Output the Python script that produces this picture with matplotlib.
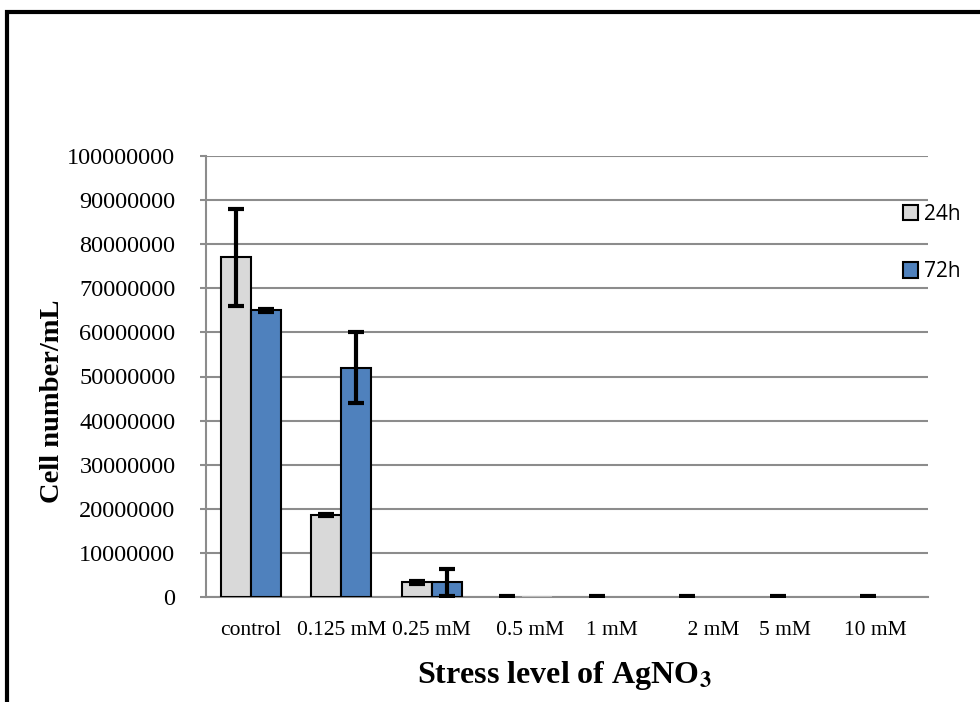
import matplotlib
matplotlib.use("Agg")
import matplotlib.pyplot as plt
import numpy as np
from matplotlib.patches import Rectangle
from matplotlib.ticker import FuncFormatter

categories = ["control", "0.125 mM", "0.25 mM", "   0.5 mM", "1 mM", "    2 mM", "5 mM   ", "10 mM   "]
vals_24h = [77000000, 18600000, 3300000, 100000, 50000, 50000, 50000, 50000]
err_24h = [11000000, 250000, 400000, 100000, 100000, 100000, 100000, 100000]
vals_72h = [65000000, 52000000, 3300000, 80000, 0, 0, 0, 0]
err_72h = [300000, 8000000, 3000000, 0, 0, 0, 0, 0]
series_names = ["24h", "72h"]
yticks = list(range(0, 100000001, 10000000))

plt.rcParams['mathtext.fontset'] = 'stix'
serif = ["Liberation Serif", "DejaVu Serif"]

fig = plt.figure(figsize=(9.8, 7.02), dpi=100)
ax = fig.add_axes([206/980, 1-597/702, (928-206)/980, (597-156)/702])

x = np.arange(len(categories))
w = 1/3
ekw = dict(elinewidth=3, capsize=6, capthick=3, ecolor="black")
e24 = np.where(np.array(err_24h) > 0, err_24h, np.nan)
e72 = np.where(np.array(err_72h) > 0, err_72h, np.nan)
b1 = ax.bar(x - w/2, vals_24h, w, color="#D9D9D9", edgecolor="black", linewidth=1.5,
            yerr=e24, error_kw=ekw, label=series_names[0], zorder=3)
b2 = ax.bar(x + w/2, vals_72h, w, color="#4F81BD", edgecolor="black", linewidth=1.5,
            yerr=e72, error_kw=ekw, label=series_names[1], zorder=3)
for i, v in enumerate(vals_72h):
    if v < 1000000:
        b2[i].set_edgecolor("#BBBBBB" if v > 0 else "none")
for i, v in enumerate(vals_24h):
    if v < 1000000:
        b1[i].set_edgecolor("none")

ax.set_xlim(-0.5, len(categories) - 0.5)
ax.set_ylim(0, 100000000)
ax.set_yticks(yticks)
ax.yaxis.set_major_formatter(FuncFormatter(lambda v, p: f"{int(round(v))}"))
ax.grid(axis="y", color="#8C8C8C", linewidth=1.5, zorder=0)
ax.set_axisbelow(True)
for s in ["top", "right"]:
    ax.spines[s].set_visible(False)
for s in ["left", "bottom"]:
    ax.spines[s].set_color("#8C8C8C")
    ax.spines[s].set_linewidth(1.5)
ax.set_xticks(x)
ax.set_xticklabels(categories, fontfamily=serif, fontsize=15.5)
ax.tick_params(axis="x", length=0, pad=17)
ax.tick_params(axis="y", length=4, color="#8C8C8C", width=1.5, pad=18, labelsize=17.5)
for t in ax.get_yticklabels():
    t.set_fontfamily(serif)

ax.set_ylabel("Cell number/mL", fontfamily=serif, fontsize=20.5, fontweight="bold")
ax.yaxis.set_label_coords(-0.195, 0.445)
ax.set_xlabel(r"Stress level of AgNO$_\mathbf{3}$", fontfamily=serif, fontsize=23, fontweight="bold")
ax.xaxis.set_label_coords(0.496, -0.14)

fig.legend(handles=[b1, b2], labels=series_names, loc="upper left",
           bbox_to_anchor=(884/980, 1-185/702), frameon=False,
           prop={"family": "Open Sans", "size": 15}, handlelength=0.75,
           handleheight=0.75, handletextpad=0.25, labelspacing=1.75)

fig.patches.append(Rectangle((6.5/980, -0.2), 2, 1.2 - 11.5/702, transform=fig.transFigure,
                             fill=False, edgecolor="black", linewidth=3, clip_on=False))

fig.savefig("out.png", dpi=100)
